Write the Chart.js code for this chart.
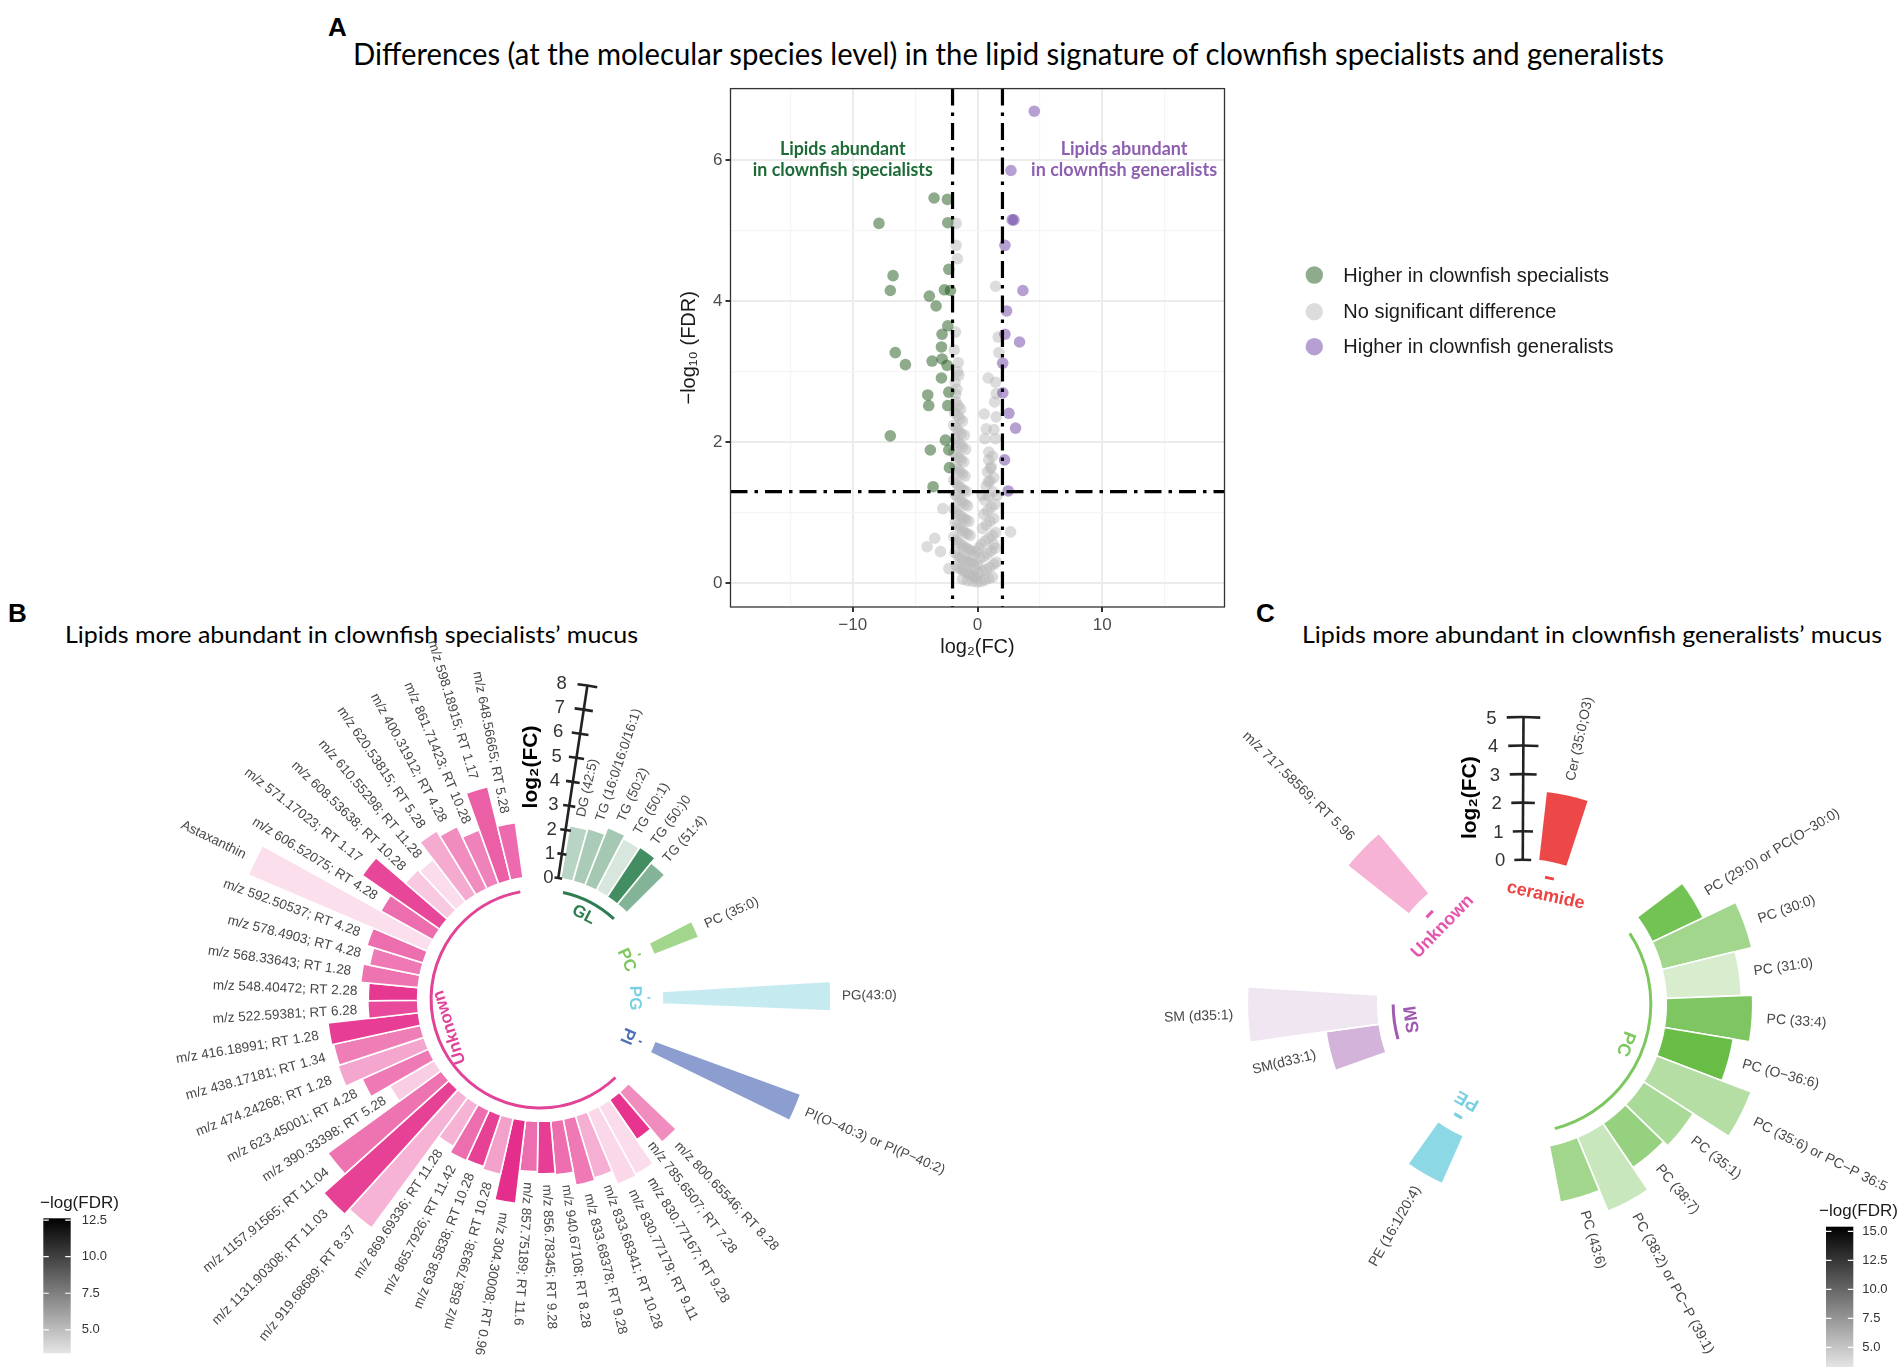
<!DOCTYPE html>
<html><head><meta charset="utf-8"><title>Clownfish lipid signature</title>
<script src="https://cdn.jsdelivr.net/npm/chart.js@4.4.1/dist/chart.umd.min.js"></script>
<style>
html,body{margin:0;padding:0;background:#fff;}
body{position:relative;width:1904px;height:1367px;overflow:hidden;}
canvas{position:absolute;}
.t{position:absolute;white-space:nowrap;line-height:1;color:#000;transform-origin:0 0;}
.letter{font-family:"Liberation Sans",Arial,sans-serif;font-weight:bold;}
.title{font-family:Lato,"Open Sans",sans-serif;}
</style></head><body>
<div class="t letter" style="left:328px;top:14px;font-size:26px">A</div>
<div class="t title" data-w="1311" style="left:353px;top:37.5px;font-size:30px">Differences (at the molecular species level) in the lipid signature of clownfish specialists and generalists</div>
<div class="t letter" style="left:8px;top:599.7px;font-size:26px">B</div>
<div class="t title" data-w="573" style="left:64.7px;top:622.7px;font-size:23.2px">Lipids more abundant in clownfish specialists’ mucus</div>
<div class="t letter" style="left:1256px;top:600px;font-size:26px">C</div>
<div class="t title" data-w="580" style="left:1302.4px;top:623.4px;font-size:23.2px">Lipids more abundant in clownfish generalists’ mucus</div>
<canvas id="cA" width="1100" height="620" style="left:600px;top:60px"></canvas>
<canvas id="cB" width="1000" height="727" style="left:0px;top:640px"></canvas>
<canvas id="cC" width="754" height="727" style="left:1150px;top:640px"></canvas>
<script>
// ================= PANEL A DATA (volcano) =================
const fcThresholds = [-2, 2];
const fdrThreshold = 1.3;
const xMajorTicks = [-10, 0, 10];
const xMinorTicks = [-15, -5, 5, 15];
const yMajorTicks = [0, 2, 4, 6];
const yMinorTicks = [1, 3, 5];
const legendLabelsA = ['Higher in clownfish specialists', 'No significant difference', 'Higher in clownfish generalists'];
const annotSpecialists = ['Lipids abundant', 'in clownfish specialists'];
const annotGeneralists = ['Lipids abundant', 'in clownfish generalists'];

const specialistLog2FC = [-3.48,-2.41,-7.90,-2.38,-2.30,-6.77,-6.99,-3.86,-3.32,-2.65,-2.17,-2.38,-2.84,-6.59,-5.78,-2.89,-3.64,-2.84,-2.44,-2.89,-2.30,-3.99,-3.91,-2.38,-6.99,-2.57,-3.78,-2.30,-2.25,-3.56];
const specialistNegLog10FDR = [5.46,5.44,5.10,5.11,4.45,4.36,4.15,4.07,3.93,4.16,4.15,3.65,3.53,3.27,3.10,3.35,3.15,3.18,3.09,2.91,2.71,2.67,2.52,2.52,2.09,2.03,1.89,1.89,1.64,1.37];
const generalistLog2FC = [4.55,2.68,2.78,2.92,2.20,3.64,2.33,2.20,3.37,2.02,2.03,2.52,3.05,2.17,2.46];
const generalistNegLog10FDR = [6.69,5.85,5.15,5.15,4.79,4.15,3.86,3.53,3.42,3.12,2.70,2.41,2.20,1.75,1.31];
const nsLog2FC = [
 -1.75,-1.55,-1.35, -1.85,-1.6,-1.4,-1.2, -1.9,-1.7,-1.5,-1.3,-1.05, -1.8,-1.6,-1.4,-1.2,-0.95,
 -1.9,-1.7,-1.5,-1.3,-1.1, -1.8,-1.6,-1.4,-1.2,-1.0, -1.9,-1.7,-1.5,-1.3,-1.1,-0.9,
 -1.8,-1.6,-1.4,-1.2,-1.0,-0.8, -1.9,-1.7,-1.5,-1.3,-1.1,-0.9,-0.7, -1.8,-1.6,-1.4,-1.2,-1.0,-0.8,-0.6,
 -1.9,-1.7,-1.5,-1.3,-1.1,-0.9,-0.7,-0.5, -1.8,-1.6,-1.4,-1.2,-1.0,-0.8,-0.6,-0.4,
 -1.7,-1.5,-1.3,-1.1,-0.9,-0.7,-0.5,-0.3,-0.1, -1.2,-0.8,-0.4,0.0,0.3,0.6,0.9,1.2,
 0.1,0.4,0.7,1.0,1.3,1.5, 0.2,0.5,0.8,1.1,1.4, 0.3,0.6,0.9,1.2,1.45, 0.4,0.7,1.0,1.3,
 0.5,0.8,1.1,1.4, 0.6,0.9,1.2, 0.7,1.0,1.3, 0.8,1.1,0.9,1.2,
 -0.2,0.0,-0.3,-0.1,0.1, -1.6,-1.8,-1.65,-1.75,
 -1.71,-1.71,-1.61,1.45,-1.77,1.66,-1.87,1.71,-1.55,-1.50,0.86,1.45,1.50,1.37,0.54,1.50,0.70,1.31,0.59,1.45,0.91,1.04,0.86,0.37,1.58,-2.78,2.65,-3.43,-4.04,-2.97,-2.30,1.31];
const nsNegLog10FDR = [
 2.58,2.52,2.47, 2.42,2.38,2.33,2.30, 2.24,2.20,2.16,2.12,2.10, 2.05,2.00,1.97,1.93,1.90,
 1.86,1.82,1.78,1.75,1.72, 1.66,1.62,1.58,1.55,1.52, 1.46,1.42,1.38,1.35,1.32,1.30,
 1.26,1.22,1.18,1.15,1.12,1.10, 1.06,1.02,0.98,0.95,0.92,0.90,0.88, 0.86,0.82,0.78,0.75,0.72,0.70,0.68,
 0.66,0.62,0.58,0.55,0.52,0.50,0.48,0.46, 0.44,0.40,0.37,0.35,0.33,0.31,0.30,0.28,
 0.25,0.22,0.20,0.18,0.16,0.14,0.12,0.10,0.08, 0.06,0.04,0.03,0.02,0.03,0.05,0.07,0.09,
 0.15,0.18,0.20,0.23,0.27,0.30, 0.35,0.38,0.42,0.46,0.50, 0.55,0.60,0.64,0.68,0.72, 0.78,0.83,0.88,0.92,
 0.98,1.03,1.08,1.12, 1.18,1.24,1.30, 1.38,1.45,1.50, 1.58,1.65,1.75,1.80,
 0.22,0.26,0.40,0.45,0.50, 3.00,2.85,2.75,2.68,
 5.10,4.79,4.60,4.21,3.56,3.49,3.31,3.27,3.13,2.95,2.91,2.85,2.69,2.57,2.40,2.36,2.19,2.18,2.05,2.05,1.86,1.63,1.44,1.25,1.25,1.06,0.73,0.64,0.52,0.45,0.21,0.55];

// ================= PANEL B DATA (specialists) =================
const bClassOrder = ['GL', 'PC', 'PG', 'PI', 'Unknown'];
const bLipids = [
 'DG (42:5)','TG (16:0/16:0/16:1)','TG (50:2)','TG (50:1)','TG (50:)0','TG (51:4)',
 'PC (35:0)','PG(43:0)','PI(O−40:3) or PI(P−40:2)',
 'm/z 800.65546; RT 8.28','m/z 785.6507; RT 7.28','m/z 830.77167; RT 9.28','m/z 830.77179; RT 9.11','m/z 833.68341; RT 10.28',
 'm/z 833.68378; RT 9.28','m/z 940.67108; RT 8.28','m/z 856.78345; RT 9.28','m/z 857.75189; RT 11.6','m/z 304.30008; RT 0.96',
 'm/z 858.79938; RT 10.28','m/z 638.5838; RT 10.28','m/z 865.7926; RT 11.42','m/z 869.69336; RT 11.28','m/z 919.68689; RT 8.37',
 'm/z 1131.90308; RT 11.03','m/z 1157.91565; RT 11.04','m/z 390.33398; RT 5.28','m/z 623.45001; RT 4.28','m/z 474.24268; RT 1.28',
 'm/z 438.17181; RT 1.34','m/z 416.18991; RT 1.28','m/z 522.59381; RT 6.28','m/z 548.40472; RT 2.28','m/z 568.33643; RT 1.28',
 'm/z 578.4903; RT 4.28','m/z 592.50537; RT 4.28','Astaxanthin','m/z 606.52075; RT 4.28','m/z 571.17023; RT 1.17',
 'm/z 608.53638; RT 10.28','m/z 610.55298; RT 11.28','m/z 620.53815; RT 5.28','m/z 400.31912; RT 4.28','m/z 861.71423; RT 10.28',
 'm/z 598.18915; RT 1.17','m/z 648.56665; RT 5.28'];
const bClass = ['GL','GL','GL','GL','GL','GL','PC','PG','PI',
 'Unknown','Unknown','Unknown','Unknown','Unknown','Unknown','Unknown','Unknown','Unknown','Unknown',
 'Unknown','Unknown','Unknown','Unknown','Unknown','Unknown','Unknown','Unknown','Unknown','Unknown',
 'Unknown','Unknown','Unknown','Unknown','Unknown','Unknown','Unknown','Unknown','Unknown','Unknown',
 'Unknown','Unknown','Unknown','Unknown','Unknown','Unknown','Unknown'];
const bLog2FC = [2.20,2.25,2.55,2.40,2.45,2.20, 1.97, 6.93, 6.38,
 2.71,1.99,3.19,3.24,2.66,2.77,2.23,2.16,2.07,3.43,
 2.36,2.24,2.28,2.00,6.65,6.92,5.75,2.12,2.99,3.72,
 3.66,3.74,2.05,2.03,2.37,2.12,2.42,8.00,2.45,3.87,
 2.28,2.20,3.08,2.84,2.35,3.96,2.29];
const bNegLogFDR = [5.74,6.46,6.66,4.32,11.35,8.29, 8.39, 6.46, 8.39,
 7.78,11.96,4.01,4.22,6.15,8.70,9.21,11.55,9.21,12.27,
 6.86,11.35,9.21,5.95,5.95,11.35,9.00,4.72,8.70,6.56,
 8.50,11.55,10.84,11.76,9.00,8.70,9.21,3.91,9.21,11.04,
 4.93,4.01,6.36,7.78,8.29,9.92,9.42];
const bAxisTicks = [0,1,2,3,4,5,6,7,8];
const bFdrTicks = [5.0, 7.5, 10.0, 12.5];
const bFdrLimits = [3.4, 12.62];

// ================= PANEL C DATA (generalists) =================
const cClassOrder = ['ceramide', 'PC', 'PE', 'SM', 'Unknown'];
const cLipids = ['Cer (35:0;O3)',
 'PC (29:0) or PC(O−30:0)','PC (30:0)','PC (31:0)','PC (33:4)','PC (O−36:6)',
 'PC (35:6) or PC−P 36:5','PC (35:1)','PC (38:7)','PC (38:2) or PC−P (39:1)','PC (43:6)',
 'PE (16:1/20:4)','SM(d33:1)','SM (d35:1)','m/z 717.58569; RT 5.96'];
const cClass = ['ceramide','PC','PC','PC','PC','PC','PC','PC','PC','PC','PC','PE','SM','SM','Unknown'];
const cLog2FC = [2.45, 1.98,3.24,2.64,3.03,2.45,3.55,2.07,1.87,2.81,2.02, 1.83, 1.88,4.57, 2.75];
const cNegLogFDR = [14.25, 13.72,9.89,5.32,12.84,14.59,8.27,9.08,10.83,6.53,9.89, 12.57, 7.60,3.84, 6.66];
const cAxisTicks = [0,1,2,3,4,5];
const cFdrTicks = [5.0, 7.5, 10.0, 12.5, 15.0];
const cFdrLimits = [3.3, 15.4];

// ================= STYLES =================
Chart.defaults.font.family = '"Liberation Sans", Arial, sans-serif';
const SANS = '"Liberation Sans", Arial, sans-serif';
const colA = {spec:'rgba(30,88,25,0.5)', gen:'rgba(109,65,165,0.5)', ns:'rgba(185,185,185,0.5)'};

// fit HTML titles to measured widths
document.querySelectorAll('.title').forEach(el => {
  const w = el.getBoundingClientRect().width;
  el.style.transform = 'scaleX(' + (+el.dataset.w / w) + ')';
});

// ================= PANEL A CHART =================
const pts = (xs, ys) => xs.map((x, i) => ({x, y: ys[i]}));
const isMajX = v => xMajorTicks.includes(v);
const isMajY = v => yMajorTicks.includes(v);

const aDecor = {
  id: 'aDecor',
  afterDatasetsDraw(chart) {
    const {ctx, chartArea: ca, scales: {x, y}} = chart;
    ctx.save();
    ctx.strokeStyle = '#000'; ctx.lineWidth = 3.2; ctx.setLineDash([17, 7, 3.5, 7]);
    fcThresholds.forEach(v => {
      const px = x.getPixelForValue(v);
      ctx.beginPath(); ctx.moveTo(px, ca.top); ctx.lineTo(px, ca.bottom); ctx.stroke();
    });
    const py = y.getPixelForValue(fdrThreshold);
    ctx.beginPath(); ctx.moveTo(ca.left, py); ctx.lineTo(ca.right, py); ctx.stroke();
    ctx.restore();
    ctx.save(); ctx.strokeStyle = '#333'; ctx.lineWidth = 1.3;
    ctx.strokeRect(ca.left, ca.top, ca.right - ca.left, ca.bottom - ca.top); ctx.restore();
    const drawAnnot = (lines, xv, yvals, color, w2) => {
      ctx.save(); ctx.font = 'bold 18px Lato, "Open Sans", sans-serif'; ctx.fillStyle = color;
      ctx.textAlign = 'center'; ctx.textBaseline = 'middle';
      const sx = w2 / ctx.measureText(lines[1]).width;
      lines.forEach((t, i) => {
        ctx.save(); ctx.translate(x.getPixelForValue(xv), y.getPixelForValue(yvals[i]));
        ctx.scale(sx, 1); ctx.fillText(t, 0, 0); ctx.restore();
      });
      ctx.restore();
    };
    drawAnnot(annotSpecialists, -10.8, [6.15, 5.86], '#1e6b37', 180);
    drawAnnot(annotGeneralists, 11.75, [6.15, 5.86], '#8c5fb0', 186);
  },
  afterDraw(chart) {
    const ctx = chart.ctx; const order = [0, 2, 1]; const ys = [215, 251.7, 286.7];
    ctx.save(); ctx.font = '20px ' + SANS; ctx.textBaseline = 'middle'; ctx.textAlign = 'left';
    order.forEach((di, k) => {
      const ds = chart.data.datasets[di];
      ctx.fillStyle = ds.backgroundColor;
      ctx.beginPath(); ctx.arc(714.3, ys[k], 8.7, 0, Math.PI * 2); ctx.fill();
      ctx.fillStyle = '#1a1a1a'; ctx.fillText(ds.label, 743.3, ys[k] + 1);
    });
    ctx.restore();
  }
};

new Chart(document.getElementById('cA'), {
  type: 'scatter',
  data: {datasets: [
    {label: legendLabelsA[0], data: pts(specialistLog2FC, specialistNegLog10FDR), backgroundColor: colA.spec},
    {label: legendLabelsA[2], data: pts(generalistLog2FC, generalistNegLog10FDR), backgroundColor: colA.gen},
    {label: legendLabelsA[1], data: pts(nsLog2FC, nsNegLog10FDR), backgroundColor: colA.ns}
  ]},
  options: {
    responsive: false, animation: false,
    elements: {point: {radius: 5.8, borderWidth: 0, hoverRadius: 5.8}},
    layout: {padding: {left: 73.7, right: 475.5, top: 28.6, bottom: 16.6}},
    plugins: {legend: {display: false}, tooltip: {enabled: false}},
    scales: {
      x: {
        type: 'linear', min: -19.8, max: 19.8, bounds: 'data',
        afterBuildTicks: ax => { ax.ticks = [...xMinorTicks, ...xMajorTicks].sort((a, b) => a - b).map(v => ({value: v})); },
        afterFit: ax => { ax.height = 56.4; },
        ticks: {autoSkip: false, maxRotation: 0, padding: 3, color: '#4d4d4d', font: {size: 17},
          callback: v => isMajX(v) ? String(v).replace('-', '−') : ''},
        grid: {color: c => isMajX(c.tick.value) ? '#ebebeb' : '#f5f5f5', lineWidth: c => isMajX(c.tick.value) ? 2 : 1.2,
          tickColor: c => isMajX(c.tick.value) ? '#333' : 'rgba(0,0,0,0)', tickLength: 5},
        border: {display: false},
        title: {display: true, text: 'log₂(FC)', color: '#1a1a1a', font: {size: 20}, padding: {top: 0, bottom: 4}}
      },
      y: {
        type: 'linear', min: -0.334, max: 7.01, bounds: 'data',
        afterBuildTicks: ax => { ax.ticks = [...yMinorTicks, ...yMajorTicks].sort((a, b) => a - b).map(v => ({value: v})); },
        afterFit: ax => { ax.width = 56.8; },
        ticks: {autoSkip: false, padding: 3, color: '#4d4d4d', font: {size: 17},
          callback: v => isMajY(v) ? String(v) : ''},
        grid: {color: c => isMajY(c.tick.value) ? '#ebebeb' : '#f5f5f5', lineWidth: c => isMajY(c.tick.value) ? 2 : 1.2,
          tickColor: c => isMajY(c.tick.value) ? '#333' : 'rgba(0,0,0,0)', tickLength: 5},
        border: {display: false},
        title: {display: true, text: '−log₁₀ (FDR)', color: '#1a1a1a', font: {size: 20}, padding: {top: 4, bottom: 0}}
      }
    }
  },
  plugins: [aDecor]
});

// ================= CIRCULAR BAR CHARTS =================
function alphaFromFdr(v, lim) {
  const t = Math.max(0, Math.min(1, (v - lim[0]) / (lim[1] - lim[0])));
  return 0.1 + 0.9 * t;
}
function buildSlots(lipids, classes, fc, fdr, order, gapsAfter) {
  const slots = [];
  order.forEach((cls, gi) => {
    lipids.forEach((lab, i) => { if (classes[i] === cls) slots.push({label: lab, cls, value: fc[i], fdr: fdr[i]}); });
    for (let k = 0; k < gapsAfter[gi]; k++) slots.push(null);
  });
  return slots;
}
function circularChart(canvasId, spec) {
  const slots = buildSlots(spec.lipids, spec.classes, spec.fc, spec.fdr, spec.order, spec.gapsAfter);
  const bg = slots.map(s => s ? 'rgba(' + spec.style[s.cls].bar + ',' + alphaFromFdr(s.fdr, spec.fdrLimits).toFixed(3) + ')' : 'rgba(0,0,0,0)');
  const deg = Math.PI / 180;
  const plugin = {
    id: 'circ' + canvasId,
    afterDatasetsUpdate(chart) {
      const s = chart.scales.r; const r0 = s.getDistanceFromCenterForValue(0);
      chart.getDatasetMeta(0).data.forEach(el => { el.innerRadius = r0; });
    },
    afterDatasetsDraw(chart) {
      const ctx = chart.ctx, s = chart.scales.r, cx = s.xCenter, cy = s.yCenter;
      const R = v => s.getDistanceFromCenterForValue(v);
      const els = chart.getDatasetMeta(0).data;
      ctx.save(); ctx.font = spec.labelFont; ctx.fillStyle = '#474747'; ctx.textBaseline = 'middle';
      els.forEach((el, i) => {
        const sl = slots[i]; if (!sl) return;
        const mid = (el.startAngle + el.endAngle) / 2;
        const r = R(sl.value + spec.labelOffset);
        let th = (mid / deg + 90) % 360; if (th < 0) th += 360;
        ctx.save(); ctx.translate(cx + r * Math.cos(mid), cy + r * Math.sin(mid));
        if (th < spec.flipAt) { ctx.rotate(mid); ctx.textAlign = 'left'; }
        else { ctx.rotate(mid + Math.PI); ctx.textAlign = 'right'; }
        ctx.fillText(sl.label, 0, 0); ctx.restore();
      });
      ctx.restore();
      spec.order.forEach(cls => {
        const idx = []; slots.forEach((sl, i) => { if (sl && sl.cls === cls) idx.push(i); });
        const f = els[idx[0]], l = els[idx[idx.length - 1]];
        const a0 = (f.startAngle + f.endAngle) / 2 - spec.ringExt * deg;
        const a1 = (l.startAngle + l.endAngle) / 2 + spec.ringExt * deg;
        const col = spec.style[cls].text;
        ctx.save(); ctx.strokeStyle = col; ctx.lineWidth = 3;
        ctx.beginPath(); ctx.arc(cx, cy, R(spec.ringValue), a0, a1); ctx.stroke();
        const m = (a0 + a1) / 2 + (spec.style[cls].shift || 0) * deg;
        const rl = R(spec.groupLabelValue);
        ctx.translate(cx + rl * Math.cos(m), cy + rl * Math.sin(m)); ctx.rotate(m + Math.PI / 2);
        ctx.font = spec.groupFont; ctx.fillStyle = col; ctx.textAlign = 'center'; ctx.textBaseline = 'middle';
        ctx.fillText(cls, 0, 0); ctx.restore();
      });
      const ax = spec.axis; const aa = (ax.angle - 90) * deg; const la = (ax.labelAngle - 90) * deg;
      ctx.save(); ctx.strokeStyle = '#222'; ctx.lineWidth = 2.6; ctx.lineCap = 'butt';
      const t0 = ax.ticks[0], t1 = ax.ticks[ax.ticks.length - 1];
      ctx.beginPath(); ctx.moveTo(cx + R(t0) * Math.cos(aa), cy + R(t0) * Math.sin(aa));
      ctx.lineTo(cx + R(t1) * Math.cos(aa), cy + R(t1) * Math.sin(aa)); ctx.stroke();
      ctx.font = '18.5px ' + SANS; ctx.fillStyle = '#333'; ctx.textAlign = 'center'; ctx.textBaseline = 'middle';
      ax.ticks.forEach(v => {
        ctx.beginPath(); ctx.arc(cx, cy, R(v), aa - ax.tickHalf * deg, aa + ax.tickHalf * deg); ctx.stroke();
        ctx.fillText(String(v), cx + R(v) * Math.cos(la) + ax.labelDx, cy + R(v) * Math.sin(la) + 1);
      });
      ctx.translate(ax.titleX, ax.titleY); ctx.rotate(-Math.PI / 2);
      ctx.font = 'bold 21px ' + SANS; ctx.fillStyle = '#000'; ctx.fillText('log₂(FC)', 0, 0);
      ctx.restore();
      const cb = spec.colorbar; const lim = spec.fdrLimits;
      ctx.save();
      const g = ctx.createLinearGradient(0, cb.y + cb.h, 0, cb.y);
      g.addColorStop(0, 'rgba(0,0,0,0.1)'); g.addColorStop(1, 'rgba(0,0,0,1)');
      ctx.fillStyle = g; ctx.fillRect(cb.x, cb.y, cb.w, cb.h);
      ctx.strokeStyle = '#fff'; ctx.lineWidth = 1.2;
      ctx.font = '13px ' + SANS; ctx.fillStyle = '#333'; ctx.textAlign = 'left'; ctx.textBaseline = 'middle';
      spec.fdrTicks.forEach(v => {
        const y = cb.y + cb.h - (v - lim[0]) / (lim[1] - lim[0]) * cb.h;
        ctx.beginPath(); ctx.moveTo(cb.x, y); ctx.lineTo(cb.x + cb.w * 0.2, y);
        ctx.moveTo(cb.x + cb.w * 0.8, y); ctx.lineTo(cb.x + cb.w, y); ctx.stroke();
        ctx.fillText(v.toFixed(1), cb.x + cb.w + cb.gap, y);
      });
      ctx.font = '17px ' + SANS; ctx.fillStyle = '#1a1a1a';
      ctx.fillText('−log(FDR)', cb.titleX, cb.titleY);
      ctx.restore();
    }
  };
  return new Chart(document.getElementById(canvasId), {
    type: 'polarArea',
    data: {labels: slots.map(s => s ? s.label : ''), datasets: [{
      data: slots.map(s => s ? s.value : 0), backgroundColor: bg,
      borderColor: '#ffffff', borderWidth: slots.map(s => s ? 1.6 : 0)
    }]},
    options: {
      responsive: false, animation: false,
      layout: {padding: spec.padding},
      plugins: {legend: {display: false}, tooltip: {enabled: false}},
      scales: {r: {display: false, min: spec.rMin, max: spec.rMax, bounds: 'data', startAngle: spec.startAngle,
        ticks: {display: false}, grid: {display: false}, angleLines: {display: false}, pointLabels: {display: false}}}
    },
    plugins: [plugin]
  });
}

circularChart('cB', {
  lipids: bLipids, classes: bClass, fc: bLog2FC, fdr: bNegLogFDR, order: bClassOrder, gapsAfter: [3, 3, 3, 3, 3],
  fdrLimits: bFdrLimits, fdrTicks: bFdrTicks,
  startAngle: 9.75, rMin: -5.026, rMax: 8,
  padding: {left: 222.6, right: 142.4, top: 41.6, bottom: 50.4},
  labelFont: '13.5px ' + SANS, labelOffset: 0.45, flipAt: 192,
  ringValue: -0.55, groupLabelValue: -1.13, ringExt: 0.5, groupFont: 'bold 17px ' + SANS,
  style: {
    GL: {bar: '40,125,75', text: '#2e7d50'},
    PC: {bar: '95,185,60', text: '#7cc85e'},
    PG: {bar: '110,205,220', text: '#78d0e0'},
    PI: {bar: '60,90,175', text: '#4f6fb6'},
    Unknown: {bar: '228,38,135', text: '#e14497', shift: 9.7}
  },
  axis: {angle: 8.6, ticks: bAxisTicks, tickHalf: 1.8, labelAngle: 3.9, labelDx: 0, titleX: 531.5, titleY: 127},
  colorbar: {x: 43.3, y: 578.3, w: 27.4, h: 135, gap: 11, titleX: 40, titleY: 563.3}
});

circularChart('cC', {
  lipids: cLipids, classes: cClass, fc: cLog2FC, fdr: cNegLogFDR, order: cClassOrder, gapsAfter: [3, 3, 3, 3, 4],
  fdrLimits: cFdrLimits, fdrTicks: cFdrTicks,
  startAngle: 6.5, rMin: -5.054, rMax: 5,
  padding: {left: 85.4, right: 94.6, top: 77.3, bottom: 75.7},
  labelFont: '14px ' + SANS, labelOffset: 0.5, flipAt: 192,
  ringValue: -0.54, groupLabelValue: -1.17, ringExt: 2, groupFont: 'bold 18px ' + SANS,
  style: {
    ceramide: {bar: '235,55,55', text: '#ec4444'},
    PC: {bar: '95,185,60', text: '#7cc85e'},
    PE: {bar: '110,205,222', text: '#78d0e0'},
    SM: {bar: '150,75,165', text: '#a05ab2'},
    Unknown: {bar: '228,38,135', text: '#e455ad'}
  },
  axis: {angle: 0.3, ticks: cAxisTicks, tickHalf: 3.35, labelAngle: -3.5, labelDx: -13, titleX: 320, titleY: 157.7},
  colorbar: {x: 676, y: 586.7, w: 27.3, h: 140.4, gap: 9, titleX: 669, titleY: 571.7}
});
</script>
</body></html>
